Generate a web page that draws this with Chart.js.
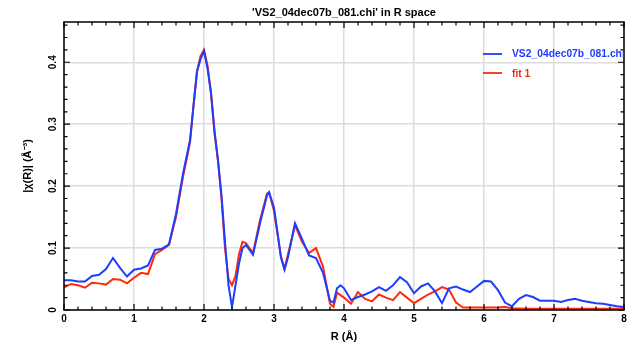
<!DOCTYPE html>
<html><head><meta charset="utf-8">
<script src="https://cdn.jsdelivr.net/npm/chart.js@4/dist/chart.umd.min.js"></script>
<style>html,body{margin:0;padding:0;background:#fff}#wrap{width:632px;height:347px}</style>
</head><body><div id="wrap"><canvas id="c" width="632" height="347"></canvas></div>
<script>
const titleText = "'VS2_04dec07b_081.chi' in R space";
const dataLabel = "VS2_04dec07b_081.chi";
const fitLabel = "fit 1";
const xTitle = "R (Å)";
const yTitle = "|χ(R)| (Å⁻³)";
const xTicks = [0,1,2,3,4,5,6,7,8];
const yTicks = [0,0.1,0.2,0.3,0.4];
const yTickLabels = ["0","0.1","0.2","0.3","0.4"];

const rBlue = [0,0.1,0.2,0.3,0.4,0.5,0.6,0.7,0.8,0.9,1.0,1.1,1.2,1.3,1.4,1.5,1.6,1.7,1.8,1.85,1.9,1.95,2.0,2.05,2.1,2.15,2.2,2.25,2.3,2.35,2.4,2.45,2.5,2.55,2.6,2.7,2.8,2.9,2.93,3.0,3.1,3.15,3.2,3.3,3.4,3.5,3.6,3.7,3.8,3.85,3.9,3.95,4.0,4.1,4.2,4.3,4.4,4.5,4.6,4.7,4.8,4.9,5.0,5.1,5.2,5.3,5.4,5.5,5.6,5.7,5.8,5.9,6.0,6.1,6.2,6.3,6.4,6.5,6.6,6.7,6.8,6.9,7.0,7.1,7.2,7.3,7.4,7.5,7.6,7.7,7.8,7.9,8.0];
const chiBlue = [0.048,0.048,0.046,0.046,0.055,0.057,0.066,0.084,0.068,0.054,0.065,0.067,0.072,0.097,0.099,0.106,0.155,0.22,0.274,0.33,0.385,0.405,0.418,0.39,0.35,0.29,0.242,0.185,0.11,0.04,0.005,0.04,0.075,0.1,0.105,0.089,0.14,0.185,0.19,0.165,0.085,0.065,0.085,0.14,0.115,0.088,0.084,0.06,0.015,0.012,0.035,0.04,0.035,0.016,0.021,0.025,0.03,0.037,0.031,0.04,0.053,0.045,0.027,0.038,0.043,0.03,0.011,0.035,0.038,0.033,0.029,0.038,0.047,0.046,0.032,0.012,0.006,0.018,0.024,0.021,0.015,0.015,0.015,0.013,0.016,0.018,0.015,0.013,0.011,0.01,0.008,0.006,0.005];

const rRed = [0,0.1,0.2,0.3,0.4,0.5,0.6,0.7,0.8,0.9,1.0,1.1,1.2,1.3,1.4,1.5,1.6,1.7,1.8,1.85,1.9,1.95,2.0,2.05,2.1,2.15,2.2,2.25,2.3,2.35,2.4,2.45,2.5,2.55,2.6,2.7,2.8,2.9,2.93,3.0,3.1,3.15,3.2,3.3,3.4,3.5,3.6,3.7,3.8,3.85,3.9,4.0,4.1,4.2,4.3,4.4,4.5,4.6,4.7,4.8,4.9,5.0,5.1,5.2,5.3,5.4,5.5,5.6,5.7,5.8,6.0,6.2,6.3,6.4,6.6,7.0,7.5,8.0];
const chiRed = [0.036,0.042,0.04,0.036,0.044,0.043,0.041,0.05,0.049,0.043,0.052,0.06,0.058,0.09,0.097,0.105,0.15,0.215,0.27,0.33,0.385,0.41,0.42,0.395,0.35,0.285,0.24,0.18,0.1,0.05,0.04,0.055,0.09,0.11,0.108,0.092,0.145,0.188,0.19,0.16,0.085,0.067,0.09,0.137,0.11,0.092,0.1,0.07,0.01,0.005,0.028,0.02,0.01,0.029,0.018,0.014,0.025,0.02,0.016,0.029,0.02,0.011,0.018,0.025,0.03,0.037,0.033,0.012,0.004,0.004,0.004,0.004,0.005,0.003,0.002,0.002,0.002,0.002];

const BLUE = '#1f3dff', RED = '#ff2a0a';
const FONT = 'Liberation Sans';
const F = (s) => 'bold ' + s + 'px ' + FONT;

const pts = (xs, ys) => xs.map((x, i) => ({x, y: ys[i]}));

const decor = {
  id: 'decor',
  afterDraw(chart) {
    const {ctx, chartArea: a, scales: {x, y}} = chart;
    ctx.save();
    ctx.strokeStyle = '#000'; ctx.lineWidth = 1.5;
    ctx.strokeRect(a.left, a.top, a.right - a.left, a.bottom - a.top);
    ctx.lineWidth = 1.2;
    for (let i = 0; i <= 40; i++) {
      const v = i * 0.2;
      const px = x.getPixelForValue(v);
      const L = (i % 5 === 0) ? 6 : 3.5;
      ctx.beginPath();
      ctx.moveTo(px, a.bottom); ctx.lineTo(px, a.bottom - L);
      ctx.moveTo(px, a.top); ctx.lineTo(px, a.top + L);
      ctx.stroke();
    }
    for (let i = 0; i <= 23; i++) {
      const v = i * 0.02;
      const py = y.getPixelForValue(v);
      if (py < a.top) break;
      const L = (i % 5 === 0) ? 6 : 3.5;
      ctx.beginPath();
      ctx.moveTo(a.left, py); ctx.lineTo(a.left + L, py);
      ctx.moveTo(a.right, py); ctx.lineTo(a.right - L, py);
      ctx.stroke();
    }
    ctx.fillStyle = '#000';
    ctx.textAlign = 'center'; ctx.textBaseline = 'middle';
    ctx.font = F(11);
    ctx.fillText(titleText, (a.left + a.right) / 2, 13);
    ctx.font = F(10);
    yTicks.forEach((v, i) => {
      const py = y.getPixelForValue(v);
      ctx.save();
      ctx.translate(a.left - 11, py);
      ctx.rotate(-Math.PI / 2);
      ctx.fillText(yTickLabels[i], 0, 0);
      ctx.restore();
    });
    ctx.font = F(11);
    ctx.save();
    ctx.translate(28, (a.top + a.bottom) / 2);
    ctx.rotate(-Math.PI / 2);
    ctx.fillText(yTitle, 0, 0);
    ctx.restore();
    ctx.fillText(xTitle, (a.left + a.right) / 2, 337);
    ctx.beginPath(); ctx.rect(a.left, a.top, a.right - a.left, a.bottom - a.top); ctx.clip();
    const lx = 483, ly1 = 54, ly2 = 73;
    ctx.lineWidth = 1.8;
    ctx.strokeStyle = BLUE; ctx.beginPath(); ctx.moveTo(lx, ly1); ctx.lineTo(lx + 19, ly1); ctx.stroke();
    ctx.strokeStyle = RED; ctx.beginPath(); ctx.moveTo(lx, ly2); ctx.lineTo(lx + 19, ly2); ctx.stroke();
    ctx.textAlign = 'left';
    ctx.font = F(10.3);
    ctx.fillStyle = BLUE; ctx.fillText(dataLabel, 512, ly1);
    ctx.fillStyle = RED; ctx.fillText(fitLabel, 512, ly2 + 1);
    ctx.restore();
  }
};

new Chart(document.getElementById('c'), {
  type: 'scatter',
  data: {
    datasets: [
      {label: dataLabel, data: pts(rBlue, chiBlue), showLine: true, borderColor: BLUE, backgroundColor: BLUE, borderWidth: 2, pointRadius: 0, tension: 0},
      {label: fitLabel, data: pts(rRed, chiRed), showLine: true, borderColor: RED, backgroundColor: RED, borderWidth: 2, pointRadius: 0, tension: 0}
    ]
  },
  options: {
    responsive: false, animation: false, devicePixelRatio: 1,
    layout: {padding: {left: 0, right: 8, top: 22, bottom: 0}},
    plugins: {
      legend: {display: false},
      tooltip: {enabled: false},
      title: {display: false}
    },
    scales: {
      x: {
        type: 'linear', min: 0, max: 8,
        afterFit(s) { s.height = 37; },
        afterBuildTicks(s) { s.ticks = xTicks.map(v => ({value: v})); },
        ticks: {color: '#000', font: {family: FONT, size: 10, weight: 'bold'}, padding: 3, maxRotation: 0},
        grid: {color: '#dcdcdc', lineWidth: 1.5, drawTicks: false},
        border: {display: false}
      },
      y: {
        type: 'linear', min: 0, max: 0.465,
        afterFit(s) { s.width = 64; },
        afterBuildTicks(s) { s.ticks = yTicks.map(v => ({value: v})); },
        ticks: {display: false},
        grid: {color: '#dcdcdc', lineWidth: 1.5, drawTicks: false},
        border: {display: false}
      }
    }
  },
  plugins: [decor]
});
</script></body></html>
